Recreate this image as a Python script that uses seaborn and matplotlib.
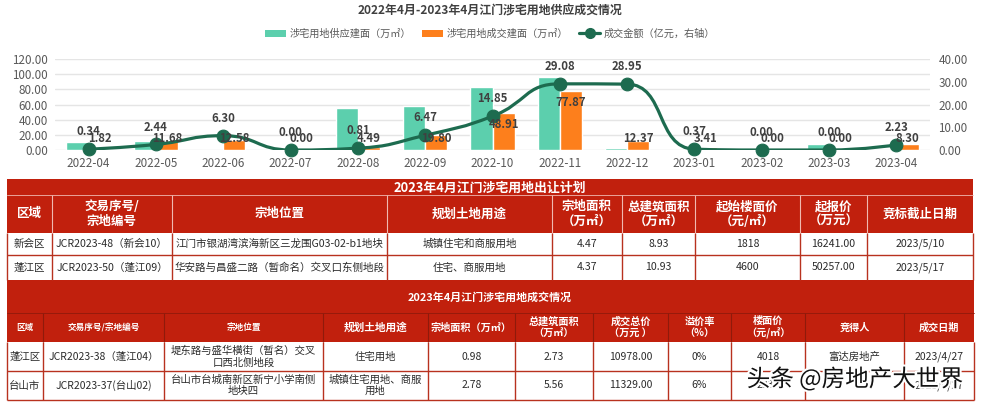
import numpy as np
import pandas as pd
import seaborn as sns
import matplotlib.pyplot as plt
import matplotlib.patheffects as pe
from matplotlib.path import Path
from matplotlib.patches import PathPatch, Rectangle, Patch
from matplotlib.lines import Line2D

# chart data
months = ["2022-04", "2022-05", "2022-06", "2022-07", "2022-08", "2022-09", "2022-10",
          "2022-11", "2022-12", "2023-01", "2023-02", "2023-03", "2023-04"]
supply_area = [11.0, 12.3, 0.0, 0.0, 55.8, 58.0, 82.7, 96.3, 3.1, 0.0, 0.0, 7.5, 0.0]
deal_area = [1.82, 11.68, 12.58, 0.00, 4.49, 19.80, 48.91, 77.87, 12.37, 3.41, 0.00, 0.00, 8.30]
deal_amount = [0.34, 2.44, 6.30, 0.00, 0.81, 6.47, 14.85, 29.08, 28.95, 0.37, 0.00, 0.00, 2.23]
s_supply = "涉宅用地供应建面（万㎡）"
s_deal = "涉宅用地成交建面（万㎡）"
s_amount = "成交金额（亿元，右轴）"
left_ticks = [0, 20, 40, 60, 80, 100, 120]
right_ticks = [0, 10, 20, 30, 40]

# table 1 data
t1_title = "2023年4月江门涉宅用地出让计划"
t1_header = ["区域", "交易序号/\n宗地编号", "宗地位置", "规划土地用途", "宗地面积\n（万㎡）",
             "总建筑面积\n（万㎡）", "起始楼面价\n（元/㎡）", "起报价\n（万元）", "竞标截止日期"]
t1_rows = [
    ["新会区", "JCR2023-48（新会10）", "江门市银湖湾滨海新区三龙围G03-02-b1地块", "城镇住宅和商服用地",
     "4.47", "8.93", "1818", "16241.00", "2023/5/10"],
    ["蓬江区", "JCR2023-50（蓬江09）", "华安路与昌盛二路（暂命名）交叉口东侧地段", "住宅、商服用地",
     "4.37", "10.93", "4600", "50257.00", "2023/5/17"],
]

# table 2 data
t2_title = "2023年4月江门涉宅用地成交情况"
t2_header = ["区域", "交易序号/宗地编号", "宗地位置", "规划土地用途", "宗地面积（万㎡）",
             "总建筑面积\n（万㎡）", "成交总价\n（万元 ）", "溢价率\n（%）", "楼面价\n（元/㎡）",
             "竞得人", "成交日期"]
t2_rows = [
    ["蓬江区", "JCR2023-38（蓬江04）", "堤东路与盛华横街（暂名）交叉\n口西北侧地段", "住宅用地",
     "0.98", "2.73", "10978.00", "0%", "4018", "富达房地产", "2023/4/27"],
    ["台山市", "JCR2023-37(台山02)", "台山市台城南新区新宁小学南侧\n地块四", "城镇住宅用地、商服\n用地",
     "2.78", "5.56", "11329.00", "6%", "2038", "", "2023/4/27"],
]

GREEN = "#5ccfad"
ORANGE = "#fd7f1c"
LINE = "#1d6b4f"
GRAY = "#595959"
LABEL = "#404040"
RED = "#c1200d"
DARKRED = "#8f1a0b"
TXT = "#2b2b2b"

sns.set_style("white")
plt.rcParams['font.family'] = ['Noto Sans CJK SC', 'DejaVu Sans']

fig = plt.figure(figsize=(9.84, 4.05), dpi=100)
W, H = 984, 405

# ---------- tables (pixel coordinates) ----------
tab = fig.add_axes([0, 0, 1, 1], zorder=0)
tab.set_xlim(0, W)
tab.set_ylim(H, 0)
tab.axis("off")


def box(x0, y0, x1, y1, fc, ec="none", lw=0):
    tab.add_patch(Rectangle((x0, y0), x1 - x0, y1 - y0, facecolor=fc, edgecolor=ec, linewidth=lw))


def grid_lines(cols, y0, y1, rows, color, lw):
    for x in cols:
        tab.plot([x, x], [y0, y1], color=color, lw=lw, solid_capstyle="butt")
    for y in rows:
        tab.plot([cols[0], cols[-1]], [y, y], color=color, lw=lw, solid_capstyle="butt")


def cell_text(cols, y0, y1, texts, size, color, weight="normal", sizes=None):
    for i, t in enumerate(texts):
        fs = sizes[i] if sizes else size
        tab.text((cols[i] + cols[i + 1]) / 2, (y0 + y1) / 2, t, ha="center", va="center",
                 fontsize=fs, color=color, fontweight=weight, linespacing=1.15)


c1 = [7, 52, 172, 387, 552, 622, 695, 800, 867, 973]
box(7, 179, 973, 233, RED)
tab.text(490, 188, t1_title, ha="center", va="center", fontsize=9.3, color="white", fontweight="bold")
grid_lines(c1[1:-1], 195, 233, [], "#f0b9b0", 0.8)
tab.plot([7, 973], [195, 195], color="#f0b9b0", lw=0.6)
cell_text(c1, 195, 233, t1_header, 9, "white", "bold")
box(7, 233, 973, 280, "white")
grid_lines(c1, 233, 280, [255], "#b8321f", 1.0)
cell_text(c1, 233, 255, t1_rows[0], 7.6, TXT)
cell_text(c1, 255, 280, t1_rows[1], 7.6, TXT)

c2 = [7, 43, 164, 323, 428, 515, 593, 668, 731, 805, 904, 974]
box(7, 280, 974, 342, RED)
tab.text(490, 297, t2_title, ha="center", va="center", fontsize=7.9, color="white", fontweight="bold")
grid_lines(c2[1:-1], 313, 342, [], DARKRED, 0.8)
tab.plot([7, 974], [313, 313], color=DARKRED, lw=0.6)
cell_text(c2, 313, 342, t2_header, 7.2, "white", "bold",
          sizes=[6.2, 6.2, 6.2, 7.7, 7.3, 7.3, 7.3, 7.3, 7.3, 7.3, 7.3])
box(7, 342, 974, 400, "white")
grid_lines(c2, 342, 400, [371, 400], "#b8321f", 1.0)
cell_text(c2, 342, 371, t2_rows[0], 7.5, TXT)
cell_text(c2, 371, 400, t2_rows[1], 7.5, TXT)

tab.text(855, 379, "头条 @房地产大世界", ha="center", va="center", fontsize=17, color="#111111",
         path_effects=[pe.withStroke(linewidth=3, foreground="white")])

# ---------- chart ----------
ax_l, ax_r, ax_t, ax_b = 55, 930, 59, 150
ax = fig.add_axes([ax_l / W, 1 - ax_b / H, (ax_r - ax_l) / W, (ax_b - ax_t) / H], zorder=2)
ax.patch.set_alpha(0)

df = pd.DataFrame({
    "month": months * 2,
    "value": supply_area + deal_area,
    "series": [s_supply] * len(months) + [s_deal] * len(months),
})
sns.barplot(data=df, x="month", y="value", hue="series", palette=[GREEN, ORANGE],
            width=0.66, saturation=1, gap=0, legend=False, ax=ax, zorder=2)
ax.set_ylim(0, 120)
ax.set_xlim(-0.5, len(months) - 0.5)
ax.set_yticks(left_ticks)
ax.set_yticklabels([f"{v:.2f}" for v in left_ticks])
ax.set_xlabel("")
ax.set_ylabel("")
ax.grid(axis="y", color="#e5e5e5", lw=1)
ax.set_axisbelow(True)
for s in ax.spines.values():
    s.set_visible(False)
ax.tick_params(axis="both", length=0, colors=GRAY, labelsize=8.4)
ax.tick_params(axis="x", pad=5)
ax.tick_params(axis="y", pad=5)

ax2 = ax.twinx()
ax2.set_ylim(0, 40)
ax2.set_yticks(right_ticks)
ax2.set_yticklabels([f"{v:.2f}" for v in right_ticks])
for s in ax2.spines.values():
    s.set_visible(False)
ax2.tick_params(axis="y", length=0, colors=GRAY, labelsize=8.4, pad=6)


def smooth_path(xs, ys, sx, sy, k=0.5):
    # echarts-style smoothed polyline built as cubic bezier segments
    px = np.asarray(xs, float) * sx
    py = np.asarray(ys, float) * sy
    n = len(px)
    outs = [(px[0], py[0])] + [None] * (n - 1)
    ins = [None] * (n - 1) + [(px[-1], py[-1])]
    for i in range(1, n - 1):
        vx, vy = px[i + 1] - px[i - 1], py[i + 1] - py[i - 1]
        d0 = np.hypot(px[i] - px[i - 1], py[i] - py[i - 1])
        d1 = np.hypot(px[i + 1] - px[i], py[i + 1] - py[i])
        r = d1 / (d0 + d1)
        ox, oy = px[i] + vx * k * r, py[i] + vy * k * r
        oy = min(max(oy, min(py[i], py[i + 1])), max(py[i], py[i + 1]))
        ix, iy = px[i] - (ox - px[i]) * d0 / d1, py[i] - (oy - py[i]) * d0 / d1
        iy = min(max(iy, min(py[i], py[i - 1])), max(py[i], py[i - 1]))
        ox, oy = px[i] + (px[i] - ix) * d1 / d0, py[i] + (py[i] - iy) * d1 / d0
        outs[i] = (ox, oy)
        ins[i] = (ix, iy)
    verts = [(px[0], py[0])]
    codes = [Path.MOVETO]
    for i in range(n - 1):
        verts += [outs[i], ins[i + 1], (px[i + 1], py[i + 1])]
        codes += [Path.CURVE4] * 3
    verts = np.array(verts) / [sx, sy]
    return Path(verts, codes)


xpos = np.arange(len(months))
sx = (ax_r - ax_l) / len(months)
sy = (ax_b - ax_t) / 40
ax2.add_patch(PathPatch(smooth_path(xpos, deal_amount, sx, sy), fill=False,
                        edgecolor=LINE, lw=2.3, zorder=3, capstyle="round"))
sns.scatterplot(x=xpos, y=deal_amount, ax=ax2, color=LINE, edgecolor=LINE, s=85,
                zorder=4, legend=False, clip_on=False)
ax.set_xlim(-0.5, len(months) - 0.5)

for i, v in enumerate(deal_amount):
    ax2.annotate(f"{v:.2f}", (i, v), xytext=(0, 12.5), textcoords="offset points",
                 ha="center", va="center", fontsize=8.2, fontweight="bold", color=LABEL, zorder=6)
for i, v in enumerate(deal_area):
    ly = max(v, 31.6) - 15.8
    ax2.annotate(f"{v:.2f}", (i + 0.165, ly), xycoords=ax.transData,
                 ha="center", va="center", fontsize=8.2, fontweight="bold", color=LABEL, zorder=6)

fig.text(490 / W, 1 - 11 / H, "2022年4月-2023年4月江门涉宅用地供应成交情况", ha="center", va="center",
         fontsize=8.6, fontweight="bold", color="#404040")
handles = [Patch(facecolor=GREEN, edgecolor="none", label=s_supply),
           Patch(facecolor=ORANGE, edgecolor="none", label=s_deal),
           Line2D([], [], color=LINE, lw=2.3, marker="o", markersize=7, label=s_amount)]
fig.legend(handles=handles, loc="center", bbox_to_anchor=(490 / W, 1 - 34 / H), ncol=3,
           frameon=False, fontsize=7.3, labelcolor=GRAY, handlelength=2.1, handleheight=0.8,
           handletextpad=0.3, columnspacing=1.1)

fig.savefig("out.png", dpi=100)
